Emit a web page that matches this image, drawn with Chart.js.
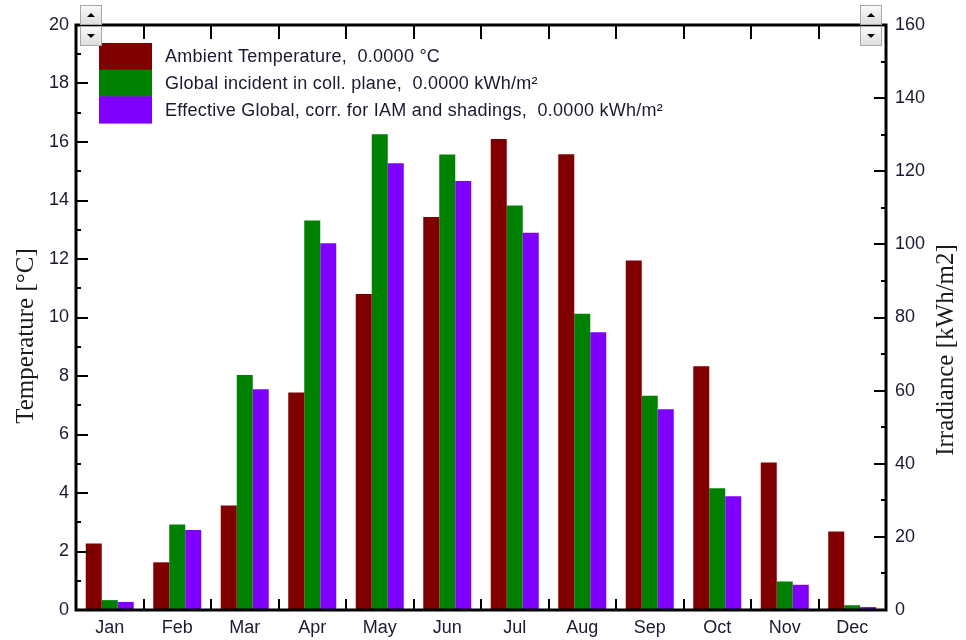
<!DOCTYPE html>
<html>
<head>
<meta charset="utf-8">
<script src="https://cdn.jsdelivr.net/npm/chart.js@4/dist/chart.umd.min.js"></script>
<style>
html,body{margin:0;padding:0;background:#fff;}
canvas{display:block;}
</style>
</head>
<body>
<canvas id="c" width="966" height="640"></canvas>
<script>
const months = ['Jan','Feb','Mar','Apr','May','Jun','Jul','Aug','Sep','Oct','Nov','Dec'];
const ambientTemp = [2.27, 1.63, 3.57, 7.44, 10.80, 13.44, 16.10, 15.58, 11.95, 8.33, 5.04, 2.68];
const globalIncident = [2.7, 23.4, 64.3, 106.5, 130.1, 124.6, 110.6, 81.0, 58.6, 33.3, 7.8, 1.3];
const effectiveGlobal = [2.2, 21.9, 60.4, 100.3, 122.2, 117.3, 103.2, 76.0, 54.9, 31.1, 6.9, 0.8];
const seriesLabels = [
  'Ambient Temperature,  0.0000 °C',
  'Global incident in coll. plane,  0.0000 kWh/m²',
  'Effective Global, corr. for IAM and shadings,  0.0000 kWh/m²'
];
const leftTitle = 'Temperature [°C]';
const rightTitle = 'Irradiance [kWh/m2]';
const tempRange = [0, 20];
const irrRange = [0, 160];

const TXT = '#1a1a33';
const SANS = "'Liberation Sans', Arial, sans-serif";
const SERIF = "'Liberation Serif', 'Times New Roman', serif";

function drawButton(ctx, x, y, w, h, up) {
  ctx.save();
  const g = ctx.createLinearGradient(0, y, 0, y + h);
  g.addColorStop(0, '#fbfbfb');
  g.addColorStop(1, '#dcdcdc');
  ctx.fillStyle = g;
  ctx.fillRect(x, y, w, h);
  ctx.strokeStyle = '#a8a8a8';
  ctx.lineWidth = 1;
  ctx.strokeRect(x + 0.5, y + 0.5, w - 1, h - 1);
  ctx.fillStyle = '#000';
  const cx = x + w / 2, cy = y + h / 2;
  ctx.beginPath();
  if (up) {
    ctx.moveTo(cx - 4, cy + 2); ctx.lineTo(cx + 4, cy + 2); ctx.lineTo(cx, cy - 2);
  } else {
    ctx.moveTo(cx - 4, cy - 2); ctx.lineTo(cx + 4, cy - 2); ctx.lineTo(cx, cy + 2);
  }
  ctx.closePath();
  ctx.fill();
  ctx.restore();
}

const decor = {
  id: 'decor',
  afterDatasetsDraw(chart) {
    const ctx = chart.ctx;
    const a = chart.chartArea;
    const x = chart.scales.x, yl = chart.scales.y, yr = chart.scales.y1;
    ctx.save();
    ctx.strokeStyle = '#000';
    ctx.lineWidth = 2;
    ctx.beginPath();
    for (let v = tempRange[0]; v <= tempRange[1]; v += 1) {
      const py = Math.round(yl.getPixelForValue(v));
      const len = (v % 2 === 0) ? 12 : 5;
      ctx.moveTo(a.left, py); ctx.lineTo(a.left + len, py);
    }
    for (let v = irrRange[0]; v <= irrRange[1]; v += 10) {
      const py = Math.round(yr.getPixelForValue(v));
      const len = (v % 20 === 0) ? 12 : 5;
      ctx.moveTo(a.right, py); ctx.lineTo(a.right - len, py);
    }
    for (let i = 1; i < months.length; i++) {
      const px = Math.round((x.getPixelForValue(i - 1) + x.getPixelForValue(i)) / 2);
      ctx.moveTo(px, a.top); ctx.lineTo(px, a.top + 14);
      ctx.moveTo(px, a.bottom); ctx.lineTo(px, a.bottom - 11);
    }
    ctx.stroke();
    ctx.lineWidth = 3;
    ctx.strokeRect(a.left, a.top, a.right - a.left, a.bottom - a.top);

    // legend
    const bx = 99, bw = 53, by = 43, bh = 26.7;
    ctx.font = '18px ' + SANS;
    if ('letterSpacing' in ctx) ctx.letterSpacing = '0.25px';
    ctx.textBaseline = 'middle';
    ctx.textAlign = 'left';
    chart.data.datasets.forEach((ds, i) => {
      ctx.fillStyle = ds.backgroundColor;
      ctx.fillRect(bx, by + i * bh, bw, bh + 0.5);
      ctx.fillStyle = TXT;
      ctx.fillText(ds.label, 165, by + i * bh + bh / 2 + 1);
    });
    if ('letterSpacing' in ctx) ctx.letterSpacing = '0px';

    // axis titles
    ctx.fillStyle = '#201a1a';
    ctx.font = '25px ' + SERIF;
    ctx.textAlign = 'center';
    ctx.textBaseline = 'middle';
    ctx.save();
    ctx.translate(26, 336);
    ctx.rotate(-Math.PI / 2);
    ctx.fillText(leftTitle, 0, 0);
    ctx.restore();
    ctx.save();
    ctx.translate(946, 350);
    ctx.rotate(-Math.PI / 2);
    ctx.fillText(rightTitle, 0, 0);
    ctx.restore();

    drawButton(ctx, 80, 5, 22, 20, true);
    drawButton(ctx, 80, 26, 22, 20, false);
    drawButton(ctx, 860, 5, 22, 20, true);
    drawButton(ctx, 860, 26, 22, 20, false);
    ctx.restore();
  }
};

new Chart(document.getElementById('c'), {
  type: 'bar',
  data: {
    labels: months,
    datasets: [
      { label: seriesLabels[0], data: ambientTemp, backgroundColor: '#800000', yAxisID: 'y' },
      { label: seriesLabels[1], data: globalIncident, backgroundColor: '#008000', yAxisID: 'y1' },
      { label: seriesLabels[2], data: effectiveGlobal, backgroundColor: '#8000ff', yAxisID: 'y1' }
    ]
  },
  options: {
    responsive: false,
    animation: false,
    layout: { padding: { top: 25, left: 0, right: 0, bottom: 0 } },
    datasets: { bar: { barPercentage: 1.0, categoryPercentage: 0.711, borderWidth: 0 } },
    plugins: { legend: { display: false }, tooltip: { enabled: false } },
    scales: {
      x: {
        grid: { display: false, drawTicks: false },
        border: { display: false },
        ticks: { font: { size: 18, family: SANS }, color: TXT, padding: 7, maxRotation: 0 },
        afterFit(s) { s.height = 30; }
      },
      y: {
        position: 'left',
        min: tempRange[0], max: tempRange[1],
        grid: { display: false, drawTicks: false },
        border: { display: false },
        ticks: { stepSize: 2, font: { size: 18, family: SANS }, color: TXT, padding: 7 },
        afterFit(s) { s.width = 76; }
      },
      y1: {
        position: 'right',
        min: irrRange[0], max: irrRange[1],
        grid: { display: false, drawTicks: false },
        border: { display: false },
        ticks: { stepSize: 20, font: { size: 18, family: SANS }, color: TXT, padding: 9 },
        afterFit(s) { s.width = 80; }
      }
    }
  },
  plugins: [decor]
});
</script>
</body>
</html>
